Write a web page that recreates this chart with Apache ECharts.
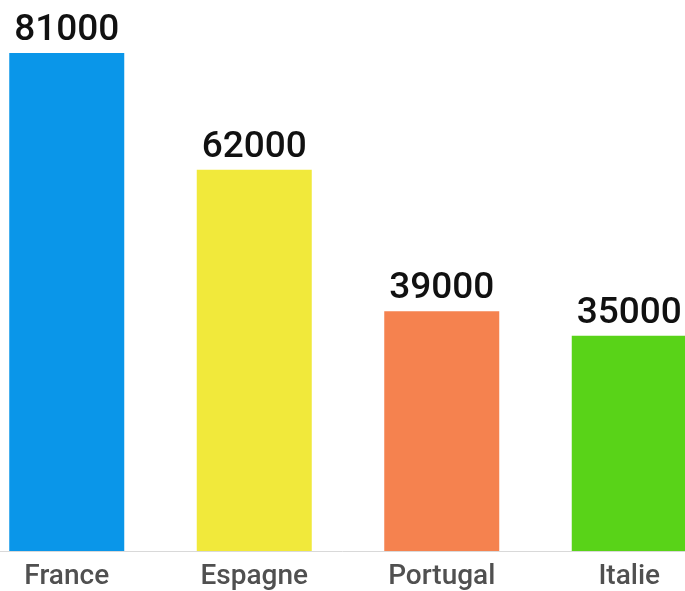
<!DOCTYPE html>
<html><head><meta charset="utf-8">
<script src="https://cdn.jsdelivr.net/npm/echarts@6/dist/echarts.min.js"></script>
<style>html,body{margin:0;padding:0;background:#fff}#c{width:685px;height:591px}</style>
</head><body><div id="c"></div>
<script>
const categories = ['France', 'Espagne', 'Portugal', 'Italie'];
const values = [81000, 62000, 39000, 35000];
const colors = ['#0a96e9', '#f1e93b', '#f5824f', '#59d318'];

const chart = echarts.init(document.getElementById('c'), null, {renderer: 'canvas'});
chart.setOption({
  animation: false,
  backgroundColor: '#fff',
  grid: {left: -27, right: -38, top: 53, bottom: 40, containLabel: false, outerBoundsMode: 'none'},
  xAxis: {
    type: 'category',
    data: categories,
    axisLine: {show: true, lineStyle: {color: '#d9d9d9', width: 1}},
    axisTick: {show: false},
    axisLabel: {color: '#505050', fontSize: 28, fontWeight: 500, fontFamily: 'Roboto', margin: 12}
  },
  yAxis: {
    type: 'value', min: 0, max: 81000,
    show: false, splitLine: {show: false}
  },
  series: [{
    type: 'bar',
    barWidth: 115,
    data: values.map((v, i) => ({value: v, itemStyle: {color: colors[i]}})),
    label: {show: true, position: 'top', distance: 4, color: '#111', fontSize: 37, fontWeight: 500, fontFamily: 'Roboto'}
  }]
});
</script></body></html>
